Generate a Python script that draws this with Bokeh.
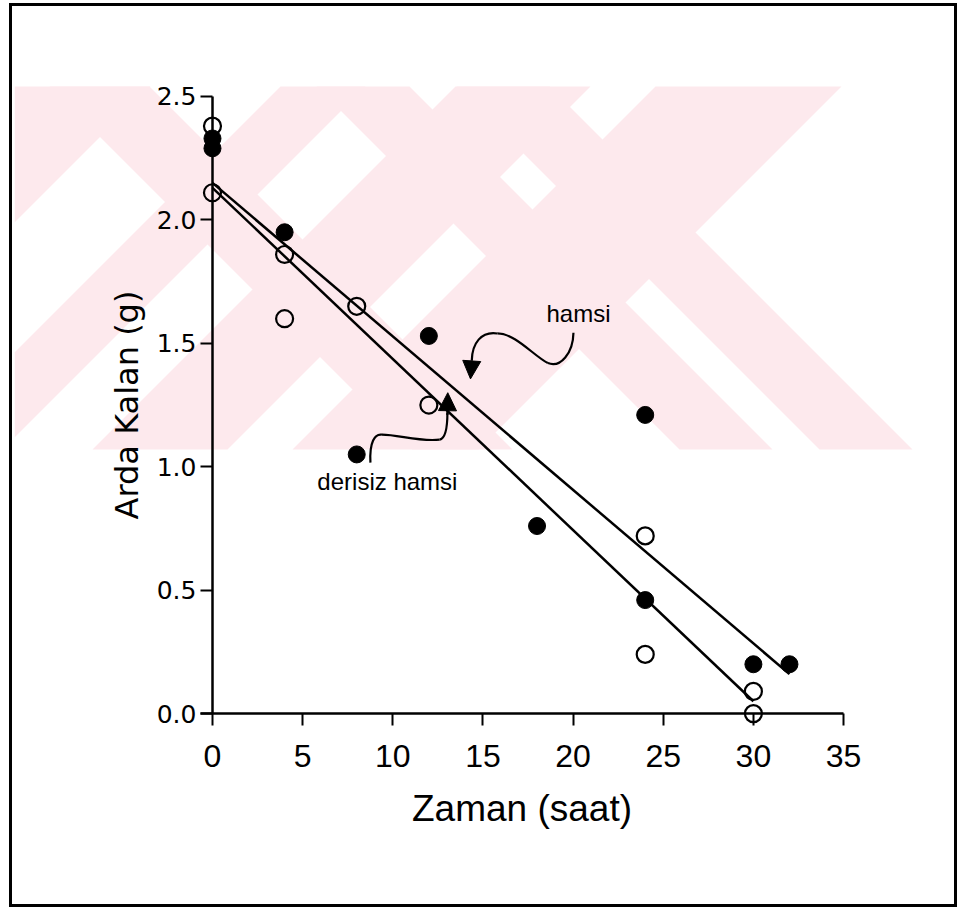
from bokeh.plotting import figure
from bokeh.models import FixedTicker, Arrow, NormalHead, Label, PolyAnnotation
from bokeh.embed import file_html
from bokeh.resources import INLINE

# ---- data ----
hamsi_x = [0, 0, 4, 8, 12, 18, 24, 24, 30, 32]
hamsi_y = [2.33, 2.29, 1.95, 1.05, 1.53, 0.76, 1.21, 0.46, 0.20, 0.20]
derisiz_x = [0, 0, 4, 4, 8, 12, 24, 24, 30, 30]
derisiz_y = [2.38, 2.11, 1.86, 1.60, 1.65, 1.25, 0.72, 0.24, 0.09, 0.00]
hamsi_fit_x = [0, 32]
hamsi_fit_y = [2.15, 0.16]
derisiz_fit_x = [0, 30]
derisiz_fit_y = [2.13, 0.05]
x_ticks = [0, 5, 10, 15, 20, 25, 30, 35]
y_ticks = [0.0, 0.5, 1.0, 1.5, 2.0, 2.5]
y_tick_labels = ["0.0", "0.5", "1.0", "1.5", "2.0", "2.5"]

# annotation curves (data coordinates)
hamsi_curve = dict(x0=[20.02, 18.6, 15.8], y0=[1.543, 1.42, 1.54],
                   x1=[18.6, 15.8, 14.38], y1=[1.42, 1.54, 1.43],
                   cx0=[20.0, 17.8, 14.9], cy0=[1.46, 1.45, 1.55],
                   cx1=[19.3, 16.8, 14.4], cy1=[1.40, 1.54, 1.50])
derisiz_curve = dict(x0=[8.76, 9.4, 12.6], y0=[1.017, 1.13, 1.11],
                     x1=[9.4, 12.6, 13.03], y1=[1.13, 1.11, 1.22],
                     cx0=[8.7, 10.3, 12.95], cy0=[1.10, 1.13, 1.115],
                     cx1=[9.0, 11.5, 13.03], cy1=[1.135, 1.10, 1.16])

# faint watermark behind the chart (page pixels): diagonal bands
WM_TOP, WM_BOTTOM, WM_LEFT, WM_RIGHT = 87, 450, 12, 910
wm_slash_bands = [(90, 235), (365, 450), (540, 675), (740, 926)]      # x + y in range
wm_backslash_bands = [(-40, 60), (227, 320), (367, 460)]              # x - y in range
WM_COLOR = "#fde9ed"
SCREEN_X0, SCREEN_Y_BASE = 12, 896   # page -> screen units of the annotation

SANS = "Liberation Sans"


def clip_poly(pts, xmin, xmax):
    def clip(pts, inside, inter):
        out = []
        n = len(pts)
        for i in range(n):
            a, b = pts[i - 1], pts[i]
            ia, ib = inside(a), inside(b)
            if ib:
                if not ia:
                    out.append(inter(a, b))
                out.append(b)
            elif ia:
                out.append(inter(a, b))
        return out

    def ix(x0):
        return lambda a, b: (x0, a[1] + (b[1] - a[1]) * (x0 - a[0]) / (b[0] - a[0]))

    pts = clip(pts, lambda p: p[0] >= xmin, ix(xmin))
    if pts:
        pts = clip(pts, lambda p: p[0] <= xmax, ix(xmax))
    return pts


p = figure(width=948, height=904, x_range=(-10.98, 38.99), y_range=(-0.7368, 2.5648),
           output_backend="svg", toolbar_location=None,
           min_border_left=2, min_border_right=45, min_border_top=74, min_border_bottom=15)
p.styles = {"border": "3px solid black", "margin-left": "9px", "margin-top": "3px"}
p.outline_line_color = None
p.xgrid.visible = False
p.ygrid.visible = False
p.background_fill_color = "white"
p.border_fill_color = "white"

# watermark
bands = []
for c0, c1 in wm_slash_bands:
    bands.append([(c0 - WM_TOP, WM_TOP), (c1 - WM_TOP, WM_TOP),
                  (c1 - WM_BOTTOM, WM_BOTTOM), (c0 - WM_BOTTOM, WM_BOTTOM)])
for d0, d1 in wm_backslash_bands:
    bands.append([(d0 + WM_TOP, WM_TOP), (d1 + WM_TOP, WM_TOP),
                  (d1 + WM_BOTTOM, WM_BOTTOM), (d0 + WM_BOTTOM, WM_BOTTOM)])
for poly in bands:
    poly = clip_poly(poly, WM_LEFT, WM_RIGHT)
    if len(poly) < 3:
        continue
    p.add_layout(PolyAnnotation(xs=[x - SCREEN_X0 for x, _ in poly],
                                ys=[SCREEN_Y_BASE - y for _, y in poly],
                                xs_units="screen", ys_units="screen",
                                fill_color=WM_COLOR, fill_alpha=1.0,
                                line_color=None, level="underlay"))

# axes (crossing at the origin)
xa = p.xaxis[0]
ya = p.yaxis[0]
xa.fixed_location = 0
ya.fixed_location = 0
xa.bounds = (-0.67, 35)
ya.bounds = (0, 2.5)
xa.ticker = FixedTicker(ticks=x_ticks)
ya.ticker = FixedTicker(ticks=y_ticks)
ya.major_label_overrides = {t: l for t, l in zip(y_ticks, y_tick_labels)}
for ax in (xa, ya):
    ax.axis_line_color = "black"
    ax.axis_line_width = 2.5
    ax.major_tick_line_color = "black"
    ax.major_tick_line_width = 2
    ax.major_tick_out = 12
    ax.major_tick_in = 0
    ax.minor_tick_line_color = None
    ax.major_label_text_color = "black"
    ax.axis_label_text_color = "black"
    ax.axis_label_text_font_style = "normal"

xa.major_label_text_font = SANS
xa.major_label_text_font_size = "32px"
xa.major_label_standoff = 19
xa.axis_label = "Zaman (saat)"
xa.axis_label_text_font = SANS
xa.axis_label_text_font_size = "37px"
xa.axis_label_standoff = 18

ya.major_label_text_font = "DejaVu Sans"
ya.major_label_text_font_size = "25px"
ya.major_label_standoff = 4
ya.axis_label = "Arda Kalan (g)"
ya.axis_label_text_font = "DejaVu Sans"
ya.axis_label_text_font_size = "32px"
ya.axis_label_standoff = 8

# regression lines
p.line(hamsi_fit_x, hamsi_fit_y, line_color="black", line_width=2.5)
p.line(derisiz_fit_x, derisiz_fit_y, line_color="black", line_width=2.5)

# points
p.scatter(hamsi_x, hamsi_y, marker="circle", size=17, fill_color="black", line_color="black")
p.scatter(derisiz_x, derisiz_y, marker="circle", size=17, fill_color=None,
          line_color="black", line_width=2.2)

# annotations
p.bezier(line_color="black", line_width=2.2, **hamsi_curve)
p.bezier(line_color="black", line_width=2.2, **derisiz_curve)
p.add_layout(Arrow(end=NormalHead(size=18, fill_color="black", line_color="black"),
                   x_start=14.38, y_start=1.43, x_end=14.31, y_end=1.356,
                   line_color="black", line_width=2.2))
p.add_layout(Arrow(end=NormalHead(size=18, fill_color="black", line_color="black"),
                   x_start=13.03, y_start=1.21, x_end=13.05, y_end=1.30,
                   line_color="black", line_width=2.2))
p.add_layout(Label(x=20.3, y=1.62, text="hamsi", text_font=SANS,
                   text_font_size="24px", text_align="center", text_baseline="middle",
                   text_color="black"))
p.add_layout(Label(x=9.7, y=0.94, text="derisiz hamsi", text_font=SANS,
                   text_font_size="24px", text_align="center", text_baseline="middle",
                   text_color="black"))

open("out.html", "w").write(file_html(p, INLINE))
